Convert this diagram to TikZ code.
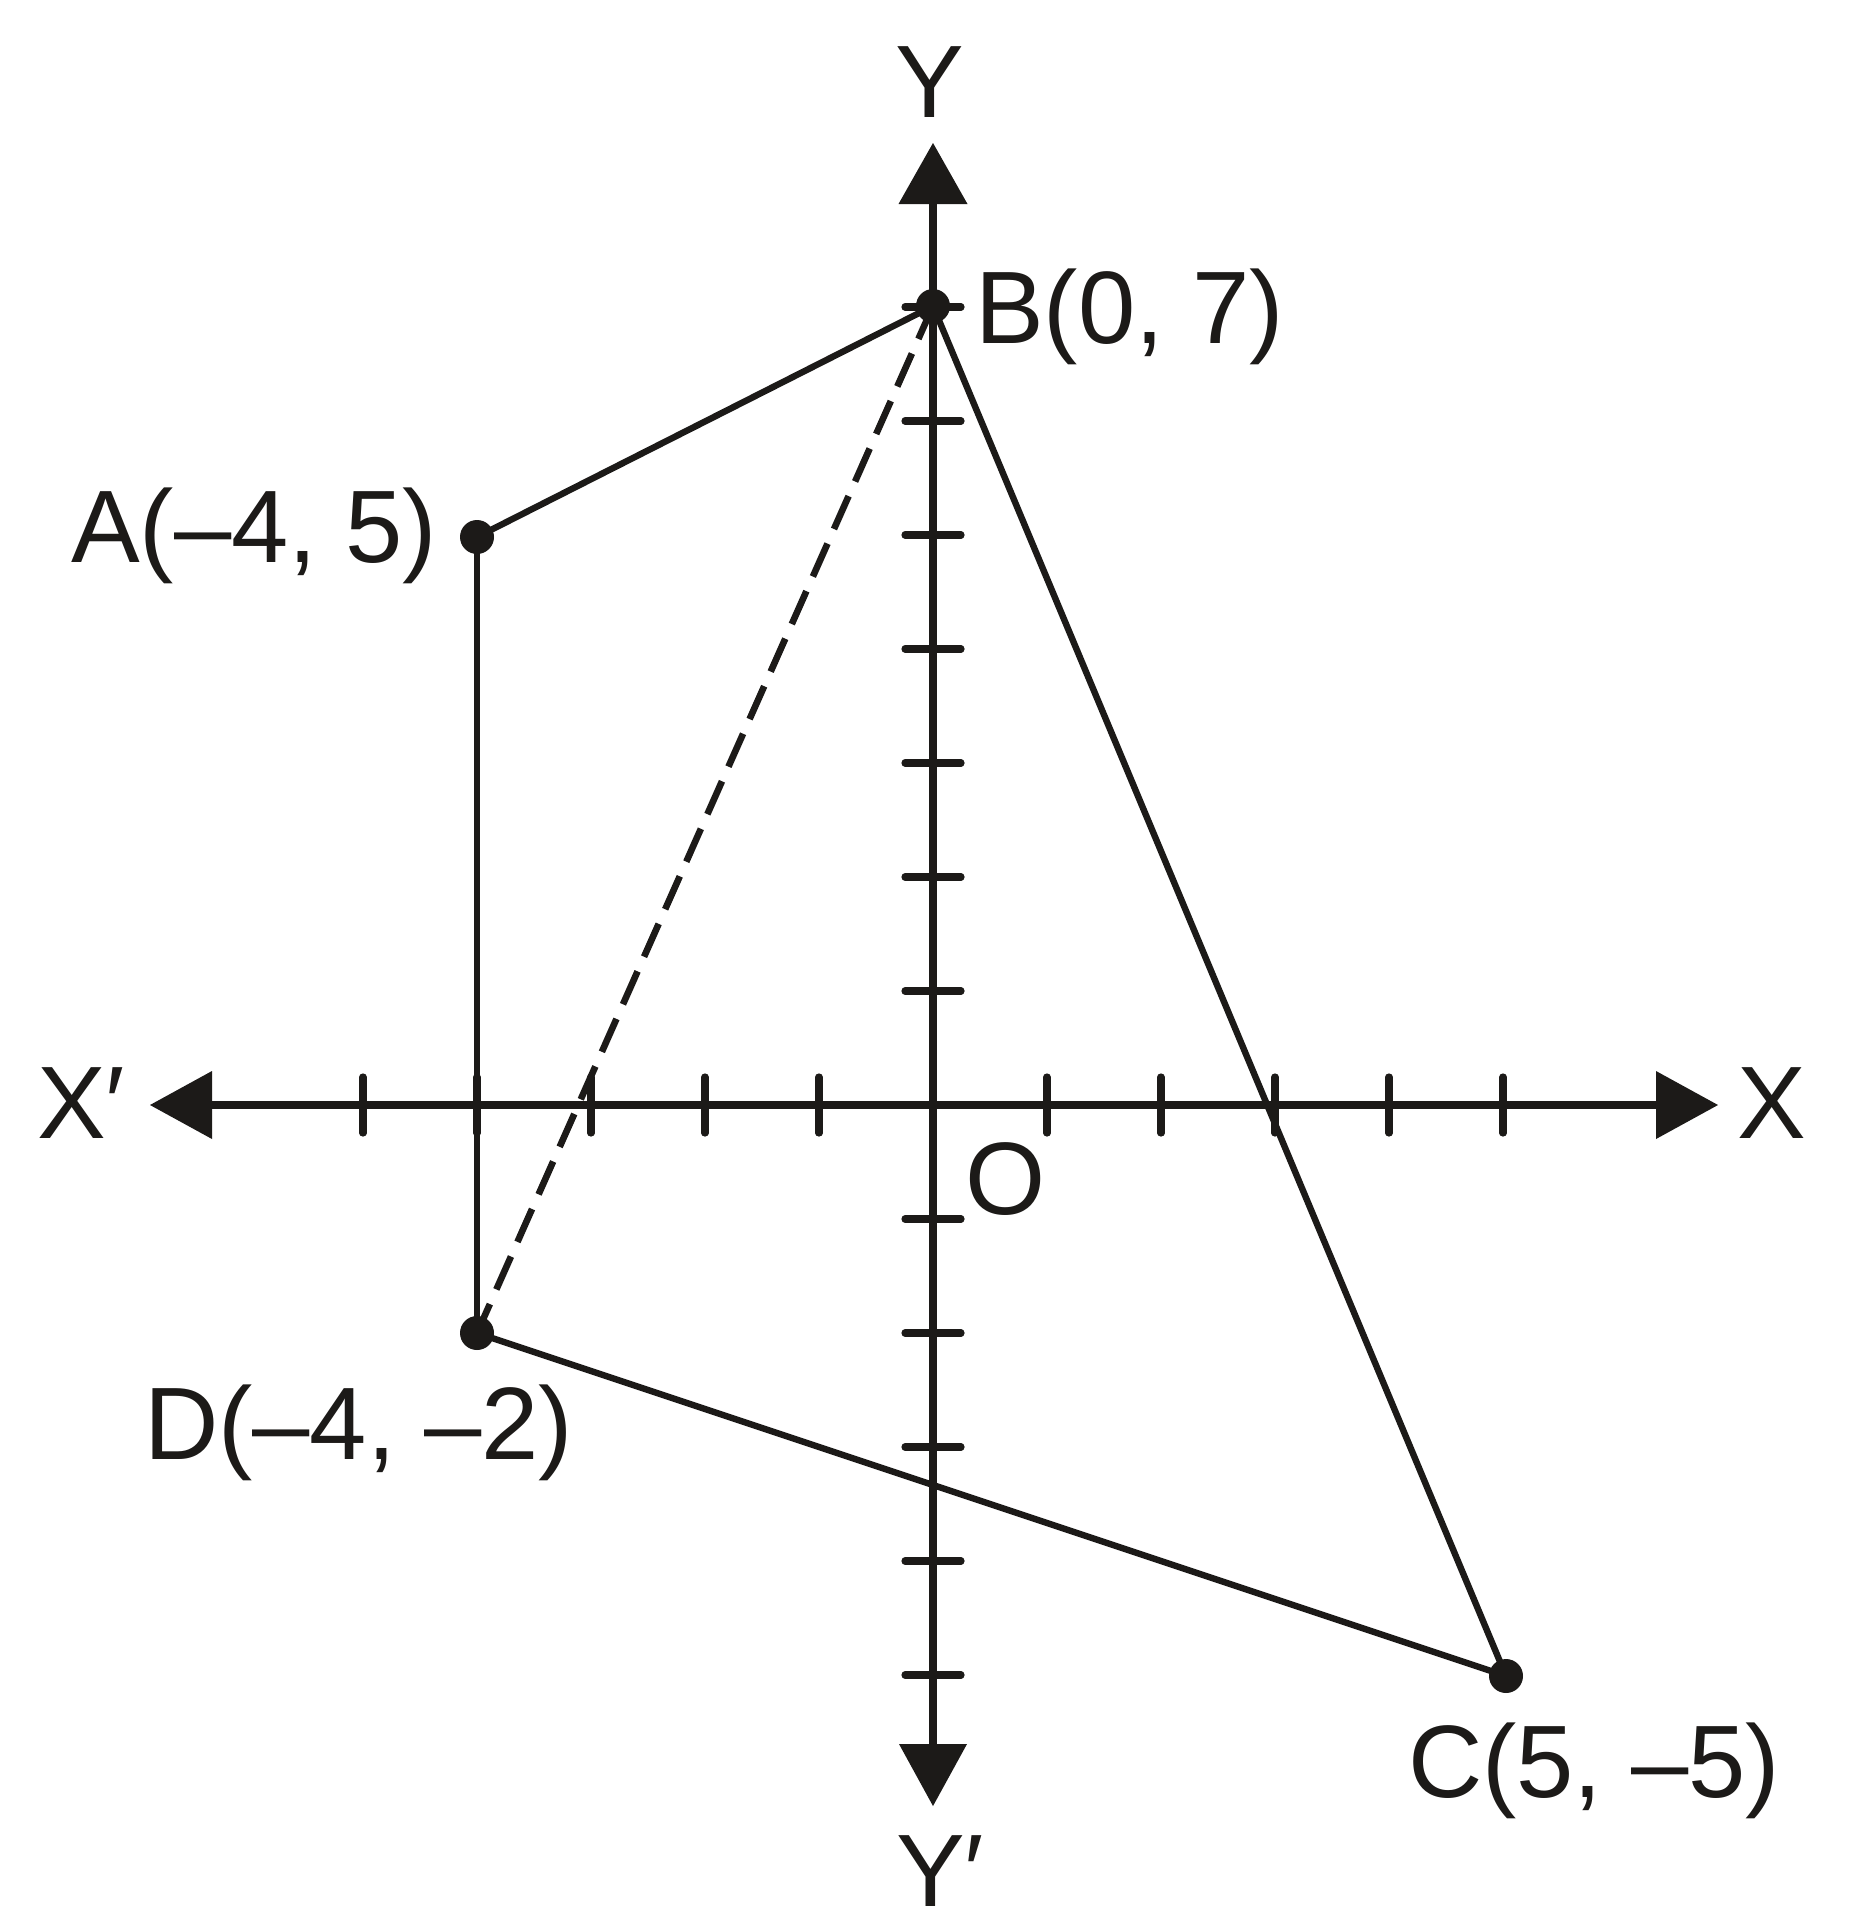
\documentclass[tikz,border=0pt]{standalone}
\usepackage{fontspec}
\setmainfont{Liberation Sans}
\definecolor{ink}{RGB}{28,26,24}
\tikzset{
  axisline/.style={line width=4.25pt, draw=ink},
  tickmark/.style={line width=3.6pt, line cap=round, draw=ink},
  edgeline/.style={line width=3.2pt, draw=ink},
  dashedge/.style={line width=3.3pt, draw=ink, dash pattern=on 18pt off 8pt},
  lab/.style={font=\fontsize{51.5pt}{60pt}\selectfont, text=ink, inner sep=0pt, outer sep=0pt, anchor=base west},
  vertex/.style={circle, fill=ink, minimum size=17pt, inner sep=0pt, outer sep=0pt},
  headfill/.style={fill=ink}
}
\begin{document}
\begin{tikzpicture}[x=0.5pt,y=-0.5pt]
\useasboundingbox (0,0) rectangle (1859,1927);
% origin and axis end points
\coordinate (O) at (933,1105);
\coordinate (xL) at (205,1105);
\coordinate (xR) at (1663,1105);
\coordinate (yT) at (933,198);
\coordinate (yB) at (933,1750);
% axes
\draw[axisline] (xL) -- (xR);
\draw[axisline] (yT) -- (yB);
% arrow heads
\fill[headfill] (933,143) -- (898.5,204) -- (967.5,204) -- cycle;
\fill[headfill] (933,1806) -- (899,1744) -- (967,1744) -- cycle;
\fill[headfill] (150,1105) -- (212,1071) -- (212,1139) -- cycle;
\fill[headfill] (1718,1105) -- (1656,1071) -- (1656,1139) -- cycle;
% ticks
\foreach \k in {-5,-4,-3,-2,-1,1,2,3,4,5}
  \draw[tickmark] ({933+114*\k},1077) -- ({933+114*\k},1133);
\foreach \k in {-5,-4,-3,-2,-1,1,2,3,4,5,6,7}
  \draw[tickmark] (905,{1105-114*\k}) -- (961,{1105-114*\k});
% vertices
\node[vertex] (A) at (477,537) {};
\node[vertex] (B) at (933,306) {};
\node[vertex] (C) at (1506,1676) {};
\node[vertex] (D) at (477,1333) {};
% edges
\draw[edgeline] (A.center) -- (B.center);
\draw[edgeline] (B.center) -- (C.center);
\draw[edgeline] (C.center) -- (D.center);
\draw[edgeline] (D.center) -- (A.center);
\draw[dashedge] (B.center) -- (D.center);
% labels
\node[lab] (labY) at (895,117) {Y};
\node[lab] (labYp) at (896,1906) {Y′};
\node[lab] (labX) at (1737,1138) {X};
\node[lab] (labXp) at (37,1138) {X′};
\node[lab] (labO) at (965,1214) {O};
\node[lab] (labB) at (975,343) {B(0, 7)};
\node[lab] (labA) at (71,562) {A(–4, 5)};
\node[lab] (labD) at (144,1459) {D(–4, –2)};
\node[lab] (labC) at (1408,1797) {C(5, –5)};
\end{tikzpicture}
\end{document}
